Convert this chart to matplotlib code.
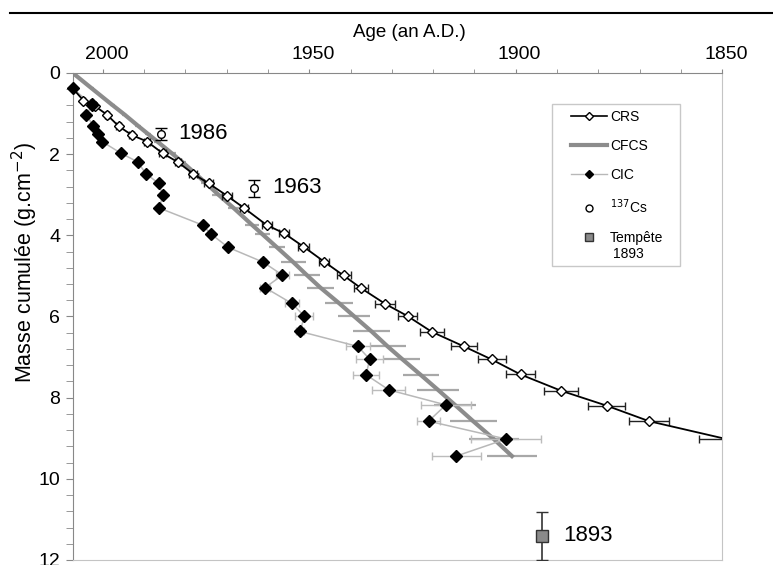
import matplotlib
matplotlib.use('Agg')
import matplotlib.pyplot as plt
from matplotlib.lines import Line2D
from matplotlib.patches import Rectangle
from matplotlib.ticker import MultipleLocator
from matplotlib.transforms import ScaledTranslation

plt.rcParams['font.family'] = ['Liberation Sans', 'DejaVu Sans']

# CRS model (open diamonds, black line)
crs_year = [2007.3, 2004.7, 2002.7, 2002.0, 1999.0, 1996.2, 1993.0, 1989.3, 1985.5, 1981.8,
            1978.2, 1974.4, 1970.0, 1965.9, 1960.3, 1956.1, 1951.4, 1946.4, 1941.7, 1937.5,
            1931.6, 1926.2, 1920.3, 1912.5, 1905.8, 1898.8, 1889.0, 1877.9, 1867.7, 1849.0]
crs_mass = [0.38, 0.68, 0.75, 0.81, 1.03, 1.31, 1.53, 1.69, 1.98, 2.20,
            2.48, 2.72, 3.02, 3.32, 3.75, 3.95, 4.28, 4.65, 4.99, 5.30,
            5.69, 5.99, 6.38, 6.74, 7.06, 7.43, 7.83, 8.20, 8.58, 9.02]
crs_err = [0, 0.4, 0.4, 0.4, 0.5, 0.5, 0.6, 0.7, 0.8, 0.8,
           0.9, 1.0, 1.2, 1.0, 1.2, 1.2, 1.3, 1.3, 1.7, 1.7,
           2.4, 2.4, 2.9, 3.1, 3.4, 3.6, 4.2, 4.5, 4.8, 6.7]

# CFCS model (thick grey line)
cfcs_year = [2007.3, 2002.7, 1997.7, 1994.7, 1991.4, 1989.1, 1986.8, 1983.3, 1980.8, 1977.6,
             1975.0, 1971.9, 1968.3, 1963.8, 1961.4, 1957.8, 1953.9, 1950.6, 1947.3, 1942.7,
             1939.2, 1934.9, 1931.0, 1927.5, 1923.0, 1918.8, 1914.7, 1910.3, 1905.3, 1900.9]
cfcs_mass = [0.0, 0.38, 0.79, 1.03, 1.31, 1.50, 1.69, 1.98, 2.19, 2.48,
             2.72, 3.01, 3.33, 3.75, 3.97, 4.30, 4.66, 4.98, 5.29, 5.68,
             5.99, 6.37, 6.74, 7.05, 7.44, 7.81, 8.18, 8.58, 9.02, 9.44]
cfcs_err = [0, 0.5, 0.6, 0.6, 0.7, 0.8, 0.8, 0.9, 1.0, 1.1,
            1.2, 1.6, 1.3, 1.7, 1.8, 2.0, 3.0, 3.2, 3.3, 3.4,
            3.8, 4.4, 4.4, 4.4, 4.4, 5.0, 5.0, 5.7, 6.0, 6.0]

# CIC model (filled diamonds, light grey line)
cic_year = [2007.3, 2002.6, 2004.0, 2002.3, 2001.2, 2000.2, 1995.6, 1991.6, 1989.6, 1986.5,
            1985.5, 1986.3, 1975.8, 1973.8, 1969.6, 1961.2, 1956.5, 1960.7, 1954.2, 1951.2,
            1952.2, 1938.2, 1935.4, 1936.2, 1930.7, 1916.9, 1921.1, 1902.3, 1914.4]
cic_mass = [0.38, 0.79, 1.03, 1.31, 1.50, 1.69, 1.98, 2.19, 2.48, 2.72,
            3.01, 3.33, 3.75, 3.97, 4.30, 4.66, 4.98, 5.29, 5.68, 5.99,
            6.37, 6.74, 7.05, 7.44, 7.81, 8.18, 8.58, 9.02, 9.44]
cic_err = [0, 0, 0, 0, 0, 0, 0, 0, 0, 0,
           0, 0, 0, 0, 0, 0.8, 1.5, 1.3, 1.6, 2.2,
           1.0, 3.0, 3.2, 3.2, 4.0, 6.0, 2.8, 8.5, 5.9]

# 137Cs markers
cs_year = [1986.0, 1963.5]
cs_mass = [1.50, 2.83]
cs_err_lo = [0.14, 0.19]
cs_err_hi = [0.15, 0.23]
cs_labels = ['1986', '1963']
cs_label_year = [1981.8, 1959.0]

# storm 1893
storm_year = [1893.5]
storm_mass = [11.4]
storm_err_lo = [0.58]
storm_err_hi = [0.60]

fig = plt.figure(figsize=(7.73, 5.65), dpi=100)
ax = fig.add_axes([0.0941, 0.0089, 0.84, 0.862])

# CFCS
ax.errorbar(cfcs_year, cfcs_mass, xerr=cfcs_err, fmt='-', color='#8c8c8c', lw=3,
            ecolor='#a8a8a8', elinewidth=1.6, capsize=0, zorder=2)
# CIC
ax.errorbar(cic_year, cic_mass, xerr=cic_err, fmt='-', color='#b8b8b8', lw=1.1,
            ecolor='#bcbcbc', elinewidth=1, capsize=3, zorder=3)
# CRS
ax.errorbar(crs_year, crs_mass, xerr=crs_err, fmt='-', color='black', lw=1.3,
            ecolor='#222222', elinewidth=1, capsize=3, zorder=4)
ax.plot(crs_year[:-1], crs_mass[:-1], 'D', ms=5.5, mfc='white', mec='black', mew=1,
        zorder=5, clip_on=False)
ax.plot(cic_year, cic_mass, 'D', ms=6, color='black', zorder=6, clip_on=False)

# 137Cs and storm
ax.errorbar(cs_year, cs_mass, yerr=[cs_err_lo, cs_err_hi], fmt='o', ms=5.5, mfc='white',
            mec='black', ecolor='black', elinewidth=1, capsize=4, zorder=6)
for x, y, t in zip(cs_label_year, cs_mass, cs_labels):
    ax.text(x, y, t, fontsize=16, va='center', ha='left')
ax.errorbar(storm_year, storm_mass, yerr=[storm_err_lo, storm_err_hi], fmt='s', ms=9,
            mfc='#8a8a8a', mec='#333333', ecolor='#333333', elinewidth=1.2, capsize=4, zorder=6)
ax.text(1888.5, storm_mass[0], '1893', fontsize=16, va='center', ha='left')

ax.set_xlim(2007.3, 1850)
ax.set_ylim(12, 0)

ax.xaxis.tick_top()
ax.xaxis.set_label_position('top')
ax.xaxis.set_major_locator(MultipleLocator(50))
ax.xaxis.set_minor_locator(MultipleLocator(10))
ax.yaxis.set_major_locator(MultipleLocator(2))
ax.yaxis.set_minor_locator(MultipleLocator(0.4))
ax.tick_params(axis='x', which='both', length=3, color='#888888', pad=4, labelsize=14)
ax.tick_params(axis='y', which='both', length=5, color='#888888', pad=4, labelsize=14)
# the year labels sit a little right of their ticks
shift = ScaledTranslation(4 / 100, 0, fig.dpi_scale_trans)
for lab in ax.get_xticklabels():
    lab.set_transform(lab.get_transform() + shift)

ax.set_xlabel('Age (an A.D.)', fontsize=13.5)
ax.xaxis.set_label_coords(0.519, 1.074)
ax.set_ylabel('Masse cumulée (g.cm$^{-2}$)', fontsize=15.5)
ax.yaxis.set_label_coords(-0.051, 0.61)

ax.spines['left'].set_color('#888888')
ax.spines['top'].set_color('#888888')
ax.spines['right'].set_color('#c4c4c4')
ax.spines['bottom'].set_color('#c4c4c4')

# legend: frame drawn separately, contents placed inside
fig.add_artist(Rectangle((551.7 / 773, 1 - 266 / 565), 128.3 / 773, 162 / 565,
                         transform=fig.transFigure, facecolor='white', edgecolor='#c8c8c8',
                         lw=1, zorder=8))
handles = [
    Line2D([], [], color='black', lw=1.2, marker='D', ms=4.5, mfc='white', mec='black'),
    Line2D([], [], color='#8c8c8c', lw=3),
    Line2D([], [], color='#b8b8b8', lw=1, marker='D', ms=4, mfc='black', mec='black'),
    Line2D([], [], ls='none', marker='o', ms=5, mfc='white', mec='black'),
    Line2D([], [], ls='none', marker='s', ms=6, mfc='#8a8a8a', mec='#333333'),
]
labels = ['CRS', 'CFCS', 'CIC', '$^{137}$Cs', 'Tempête']
leg = fig.legend(handles, labels, loc='upper left', bbox_to_anchor=(571 / 773, 1 - 110 / 565),
                 bbox_transform=fig.transFigure, fontsize=10, frameon=False,
                 handlelength=2.6, handletextpad=0.2, labelspacing=1.08, borderpad=0,
                 borderaxespad=0, numpoints=1)
leg.set_zorder(9)
fig.text(613 / 773, 1 - 254 / 565, '1893', fontsize=10, va='center', ha='left', zorder=9)

# horizontal rule at the top of the page
fig.add_artist(Line2D([10 / 773, 1], [1 - 13 / 565, 1 - 13 / 565], color='black', lw=1.5,
                      transform=fig.transFigure))

fig.savefig('out.png', dpi=100)
